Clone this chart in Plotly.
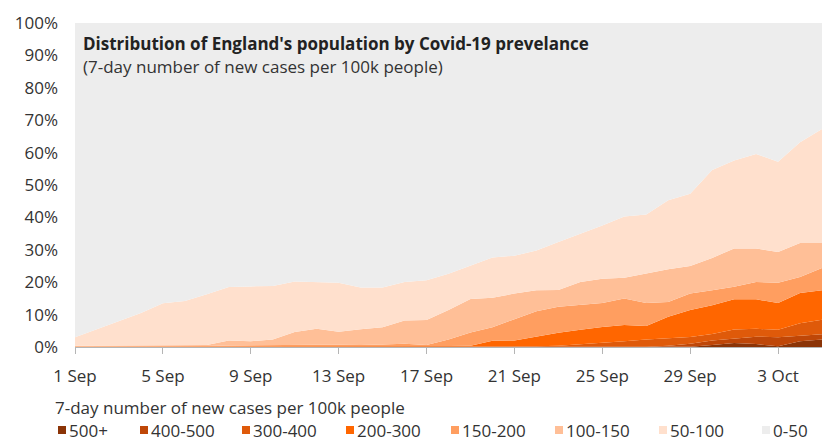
import plotly.graph_objects as go
import pandas as pd

dates = pd.date_range("2020-09-01", "2020-10-05", freq="D")

bands = ["500+", "400-500", "300-400", "200-300", "150-200", "100-150", "50-100", "0-50"]
colors = ["#8B3407", "#BF4708", "#DF5A0A", "#FF6600", "#FF9E60", "#FFBF97", "#FFE0CD", "#EDEDED"]

# share of population (%) in each band, 1 Sep .. 5 Oct
s500 = [0]*28 + [0.1, 0.6, 1.2, 0.9, 0.2, 1.8, 2.3]
s400 = [0]*26 + [0.1, 0.4, 0.9, 1.4, 1.4, 2.3, 2.8, 1.7, 1.6]
s300 = [0]*21 + [0.2, 0.4, 0.8, 1.3, 1.8, 2.2, 2.4, 2.1, 2.0, 2.8, 2.4, 2.3, 3.8, 4.5]
s200 = [0.1, 0.1, 0.1, 0.1, 0.1, 0.1, 0.1, 0.2, 0.3, 0.3, 0.3, 0.3, 0.3, 0.3, 0.3, 0.3,
        0.2, 0.3, 0.4, 1.9, 2.0, 3.1, 4.0, 4.5, 4.9, 5.0, 4.2, 6.5, 8.3, 8.9, 9.3, 9.1,
        8.3, 9.4, 9.1]
s150 = [0.1, 0.1, 0.1, 0.1, 0.1, 0.2, 0.2, 0.3, 0.3, 0.4, 0.4, 0.4, 0.4, 0.3, 0.5, 0.7,
        0.4, 2.0, 4.1, 4.2, 6.6, 7.7, 8.0, 7.6, 7.4, 8.2, 7.1, 4.6, 5.1, 4.6, 3.9, 5.4,
        6.2, 4.9, 6.9]
s100 = [0.2, 0.2, 0.2, 0.2, 0.2, 0.2, 0.3, 1.5, 1.2, 1.6, 3.9, 4.9, 4.0, 4.9, 5.3, 7.2,
        7.7, 9.1, 10.3, 9.1, 7.9, 6.5, 5.2, 7.2, 7.5, 6.4, 9.1, 10.1, 8.5, 10.0, 11.8, 10.3,
        9.5, 10.5, 7.7]
s50 = [2.6, 5.1, 7.6, 10.1, 13.1, 13.7, 15.7, 16.5, 16.9, 16.5, 15.6, 14.5, 15.1, 12.9,
       12.3, 11.9, 12.3, 11.2, 10.2, 12.4, 11.7, 12.3, 14.8, 14.8, 16.4, 18.9, 18.2, 21.3,
       22.3, 27.1, 27.2, 29.2, 27.9, 31.1, 35.2]
s0 = [97.0, 94.5, 92.0, 89.5, 86.5, 85.8, 83.7, 81.5, 81.3, 81.2, 79.8, 79.9, 80.2, 81.6,
      81.6, 79.9, 79.4, 77.4, 75.0, 72.4, 71.8, 70.2, 67.6, 65.1, 62.5, 59.7, 59.1, 54.7,
      52.7, 45.4, 42.4, 40.4, 42.8, 36.8, 32.7]

series = [s500, s400, s300, s200, s150, s100, s50, s0]

FONT = "Open Sans"
TXT = "#333333"

fig = go.Figure()
for name, col, vals in zip(bands, colors, series):
    fig.add_trace(go.Scatter(
        x=dates, y=vals, name=name, mode="lines", stackgroup="one",
        line=dict(width=0, color=col), fillcolor=col, showlegend=False,
        hovertemplate="%{x|%-d %b}: %{y:.1f}%<extra>" + name + "</extra>",
    ))

W, H = 822, 441
ML, MR, MT, MB = 75, 0, 23, 94
PW, PH = W - ML - MR, H - MT - MB


def px(x):
    return (x - ML) / PW


def py(y):
    return (H - MB - y) / PH


annotations = [
    dict(text="<b>Distribution of England's population by Covid-19 prevelance</b>",
         x=px(81), y=py(43), xref="paper", yref="paper", xanchor="left", yanchor="middle",
         showarrow=False, font=dict(family=FONT, size=17, color="#222222")),
    dict(text="(7-day number of new cases per 100k people)",
         x=px(81), y=py(66), xref="paper", yref="paper", xanchor="left", yanchor="middle",
         showarrow=False, font=dict(family=FONT, size=17, color=TXT)),
    dict(text="7-day number of new cases per 100k people",
         x=px(53), y=py(407), xref="paper", yref="paper", xanchor="left", yanchor="middle",
         showarrow=False, font=dict(family=FONT, size=17, color=TXT)),
]

legend_x = [58, 140, 242, 346, 451, 555, 659, 762]
shapes = []
for name, col, lx in zip(bands, colors, legend_x):
    shapes.append(dict(type="rect", xref="paper", yref="paper",
                       x0=px(lx), x1=px(lx + 8), y0=py(434), y1=py(426),
                       fillcolor=col, line=dict(width=0), layer="above"))
    annotations.append(dict(text=name, x=px(lx + 9), y=py(430), xref="paper", yref="paper",
                            xanchor="left", yanchor="middle", showarrow=False,
                            font=dict(family=FONT, size=17, color=TXT)))

fig.update_layout(
    width=W, height=H,
    margin=dict(l=ML, r=MR, t=MT, b=MB),
    paper_bgcolor="white", plot_bgcolor="white",
    font=dict(family=FONT, size=17, color=TXT),
    showlegend=False,
    annotations=annotations, shapes=shapes,
    xaxis=dict(
        range=[dates[0], dates[-1]], type="date",
        tick0="2020-09-01", dtick=4 * 86400000, tickformat="%-d %b",
        showgrid=False, zeroline=False,
        showline=True, linecolor="#b5b5b5", linewidth=1,
        ticks="outside", ticklen=6, tickcolor="#b5b5b5",
        ticklabelstandoff=8,
        tickfont=dict(family=FONT, size=17, color=TXT),
    ),
    yaxis=dict(
        range=[0, 100], dtick=10, ticksuffix="%",
        showgrid=False, zeroline=False, showline=False,
        ticklabelstandoff=16,
        tickfont=dict(family=FONT, size=17, color=TXT),
    ),
)

fig.write_html("out.html")
